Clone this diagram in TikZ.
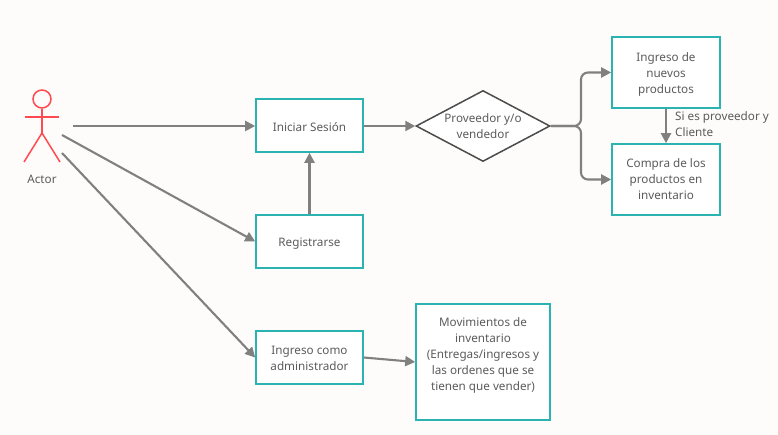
\documentclass[tikz,border=0pt]{standalone}
\usepackage{fontspec}
\setmainfont{Noto Sans}
\usetikzlibrary{arrows.meta,shapes.geometric,calc}

\definecolor{paper}{HTML}{FDFCFA}
\definecolor{tealbox}{HTML}{2BB3B1}
\definecolor{linegray}{HTML}{808080}
\definecolor{textgray}{HTML}{5C5C5C}
\definecolor{actorred}{HTML}{FF4A4F}

\tikzset{
  label text/.style={text=textgray, font=\fontsize{11.7}{16}\selectfont, align=center, inner sep=0pt},
  process/.style={label text, draw=tealbox, fill=white, line width=1.6pt, inner sep=0pt},
  decision/.style={label text, diamond, draw=black!70, fill=white, line width=1.5pt, inner sep=0pt, aspect=1.9},
  flow/.style={draw=linegray, line width=2.1pt, -{Triangle[length=10pt,width=10pt]}},
  stick/.style={draw=actorred, line width=1.5pt},
  textdown/.style={execute at begin node={\rule{0pt}{#1}}},
}

\begin{document}
\begin{tikzpicture}[x=1pt, y=-1pt]
  \fill [paper] (0,0) rectangle (778,435);
  \useasboundingbox (0,0) rectangle (778,435);

  % actor
  \node [stick, circle, minimum size=18pt, inner sep=0pt] (head) at (42,99) {};
  \coordinate (hip) at (42,133);
  \coordinate (armL) at (25,117);
  \coordinate (armR) at (59,117);
  \coordinate (legL) at (24,162);
  \coordinate (legR) at (60,162);
  \draw [stick] (head.south) -- (hip);
  \draw [stick] (armL) -- (armR);
  \draw [stick] (legL) -- (hip) -- (legR);
  \node [label text] (actor) at (42,179) {Actor};

  % free ends at the actor
  \coordinate (a1) at (73,126);
  \coordinate (a2) at (62,135);
  \coordinate (a3) at (62,153);

  % boxes
  \node [process, textdown=13pt, minimum width=107pt, minimum height=53pt] (login) at (309.5,125.5) {Iniciar Sesión};
  \node [process, textdown=12.5pt, minimum width=107pt, minimum height=53pt] (signup) at (309.5,241.5) {Registrarse};
  \node [process, minimum width=107pt, minimum height=53pt, label={[label text, yshift=-1pt]center:{Ingreso como\\administrador}}] (admin) at (309.5,357.5) {};
  \node [decision, minimum width=134pt, minimum height=71pt] (role) at (483,126) {Proveedor y/o\\vendedor};
  \node [process, minimum width=108pt, minimum height=71pt, label={[label text, yshift=-2pt]center:{Ingreso de\\nuevos\\productos}}] (newprod) at (666,72.5) {};
  \node [process, minimum width=108pt, minimum height=71pt] (buy) at (666,179.5) {Compra de los\\productos en\\inventario};
  \node [process, minimum width=134pt, minimum height=116pt] (moves) at (483,362) {Movimientos de\\inventario\\(Entregas/ingresos y\\las ordenes que se\\tienen que vender)\\~};

  % connectors
  \draw [flow] (a1) -- (a1 -| login.west);
  \draw [flow] (a2) -- (signup.west);
  \draw [flow] (a3) -- (admin.west);
  \draw [flow] (signup) -- (login);
  \draw [flow] (login.east |- role) -- (role);
  \draw [flow] (admin.east) -- (moves.west);
  \draw [flow, rounded corners=7pt] (role.east) -| (581,72.5) -- (newprod.west);
  \draw [flow, rounded corners=7pt] (role.east) -| (581,179.5) -- (buy.west);
  \draw [flow] (newprod) -- (buy);

  \node [label text, align=left, anchor=west] (orlabel) at (675,124.5) {Si es proveedor y\\Cliente};
\end{tikzpicture}
\end{document}
